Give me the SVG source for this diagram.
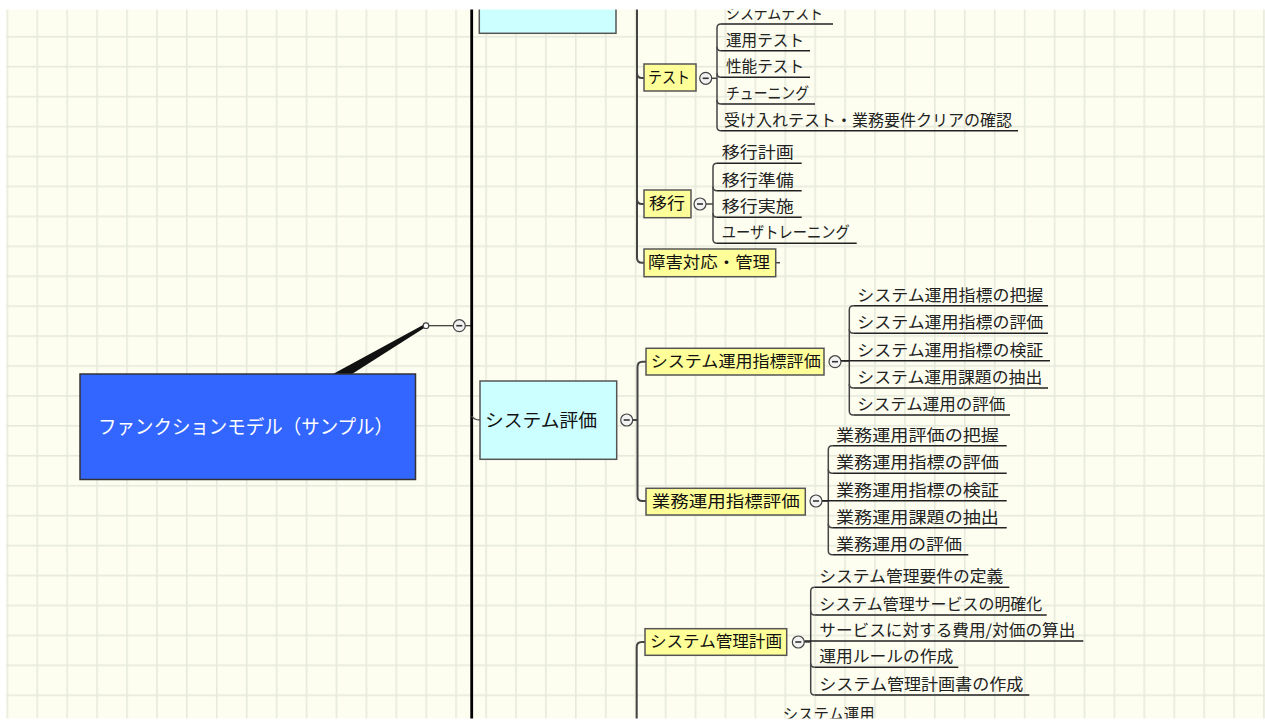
<svg xmlns="http://www.w3.org/2000/svg" width="1265" height="720" viewBox="0 0 1265 720">
<defs>
<pattern id="grid" x="6.5" y="6" width="29.92" height="29.93" patternUnits="userSpaceOnUse">
<rect width="29.92" height="29.93" fill="#fdfef0"/>
<rect x="0" y="0" width="1.6" height="29.93" fill="#e6eadc"/>
<rect x="0" y="0" width="29.92" height="1.6" fill="#e6eadc"/>
</pattern>
<style>
text{font-family:"Noto Sans CJK JP","Noto Sans CJK SC",sans-serif;}
.leaf{font-size:16px;fill:#222;}
.btxt{font-size:16px;fill:#111;}
.ybox{fill:#ffff99;stroke:#555;stroke-width:1.5;}
.cbox{fill:#ccffff;stroke:#555;stroke-width:1.5;}
.conn{fill:none;stroke:#444;stroke-width:2;}
.br{fill:none;stroke:#444;stroke-width:1.5;}
.ul{fill:none;stroke:#222;stroke-width:1.5;}
.tog{fill:#f2f2f2;stroke:#444;stroke-width:1.2;}
.minus{stroke:#333;stroke-width:1.6;}
</style>
</defs>
<rect x="0" y="0" width="1265" height="720" fill="#ffffff"/>
<rect x="6" y="9" width="1259" height="710" fill="url(#grid)"/>

<g id="connectors">
<!-- root to spine -->
<polygon points="333,374 352,374 425,327.5 424,324.5" fill="#111"/>
<line x1="429" y1="325.7" x2="453.3" y2="325.7" stroke="#333" stroke-width="1.2"/>
<line x1="465.3" y1="325.7" x2="471.7" y2="325.7" stroke="#333" stroke-width="1.2"/>
<line x1="471.7" y1="0" x2="471.7" y2="720" stroke="#000" stroke-width="2.8"/>
<!-- spine to システム評価 -->
<path class="br" d="M471.7,416 Q474,420 480,420"/>
<!-- top group vertical -->
<path class="conn" d="M637,0 V257.7 Q637,262.7 642,262.7 H644"/>
<path class="conn" d="M637,73 Q637,78 642,78 H644"/>
<path class="conn" d="M637,199 Q637,204 642,204 H644"/>
<line x1="775.7" y1="262.7" x2="780" y2="262.7" stroke="#444" stroke-width="1.5"/>
<!-- システム評価 group -->
<line x1="632.7" y1="420" x2="637.5" y2="420" stroke="#444" stroke-width="2"/>
<path class="conn" d="M646,361.7 H642.5 Q637.5,361.7 637.5,366.7 V496 Q637.5,501 642.5,501 H646"/>
<!-- bottom group -->
<path class="conn" d="M645,642 H641.7 Q636.7,642 636.7,647 V720"/>

<!-- テスト children -->
<line class="br" x1="711.7" y1="78.3" x2="717" y2="78.3"/>
<path class="br" d="M721,24 Q717,24 717,28 V126.7 Q717,130.7 721,130.7"/>
<path class="br" d="M717,46.7 Q717,50.7 721,50.7"/>
<path class="br" d="M717,73.3 Q717,77.3 721,77.3"/>
<path class="br" d="M717,100 Q717,104 721,104"/>
<path class="ul" d="M721,24 H833 M721,50.7 H810 M721,77.3 H810 M721,104 H815 M721,130.7 H1018"/>

<!-- 移行 children -->
<line class="br" x1="706" y1="204" x2="713" y2="204"/>
<path class="br" d="M717,163.3 Q713,163.3 713,167.3 V239.3 Q713,243.3 717,243.3"/>
<path class="br" d="M713,186.7 Q713,190.7 717,190.7"/>
<path class="br" d="M713,213.3 Q713,217.3 717,217.3"/>
<path class="ul" d="M717,163.3 H801.7 M717,190.7 H801.7 M717,217.3 H801.7 M717,243.3 H856.7"/>

<!-- システム運用指標評価 children -->
<line class="br" x1="841" y1="361" x2="849.3" y2="361"/>
<path class="br" d="M853.3,305.7 Q849.3,305.7 849.3,309.7 V411 Q849.3,415 853.3,415"/>
<path class="br" d="M849.3,329.3 Q849.3,333.3 853.3,333.3"/>
<path class="br" d="M849.3,384 Q849.3,388 853.3,388"/>
<path class="ul" d="M853.3,305.7 H1048 M853.3,333.3 H1048 M840,360.7 H1050 M853.3,388 H1048 M853.3,415 H1010"/>

<!-- 業務運用指標評価 children -->
<line class="br" x1="822" y1="501" x2="828.3" y2="501"/>
<path class="br" d="M832.3,445.7 Q828.3,445.7 828.3,449.7 V550.7 Q828.3,554.7 832.3,554.7"/>
<path class="br" d="M828.3,469.3 Q828.3,473.3 832.3,473.3"/>
<path class="br" d="M828.3,523.7 Q828.3,527.7 832.3,527.7"/>
<path class="ul" d="M832.3,445.7 H1006.7 M832.3,473.3 H1006.7 M822,500.7 H1006.7 M832.3,527.7 H1006.7 M832.3,554.7 H968.3"/>

<!-- システム管理計画 children -->
<line class="br" x1="804.3" y1="642" x2="810.7" y2="642"/>
<path class="br" d="M814.7,587.3 Q810.7,587.3 810.7,591.3 V691 Q810.7,695 814.7,695"/>
<path class="br" d="M810.7,611 Q810.7,615 814.7,615"/>
<path class="br" d="M810.7,663.3 Q810.7,667.3 814.7,667.3"/>
<path class="ul" d="M814.7,587.3 H1009.3 M814.7,615 H1046.7 M804.3,641 H1083.3 M814.7,667.3 H958.3 M814.7,695 H1029.3"/>
</g>

<g id="root">
<rect x="80" y="374" width="335.5" height="105.5" fill="#3366ff" stroke="#333" stroke-width="1.5"/>
<text x="98" y="434" font-size="19.5" fill="#ffffff" textLength="295" lengthAdjust="spacingAndGlyphs">ファンクションモデル（サンプル）</text>
</g>
<g id="root-joint">
<circle cx="426" cy="325.7" r="2.8" fill="#fff" stroke="#444" stroke-width="1.2"/>
<circle class="tog" cx="459.3" cy="325.7" r="6"/>
<line class="minus" x1="456.3" y1="325.7" x2="462.3" y2="325.7"/>
</g>

<g id="top-cyan">
<rect class="cbox" x="479.3" y="-40" width="136.7" height="73.3"/>
</g>

<g id="n-test">
<rect class="ybox" x="644" y="64" width="52" height="27"/>
<text class="btxt" x="648" y="82.8" textLength="42" lengthAdjust="spacingAndGlyphs">テスト</text>
<circle class="tog" cx="705.7" cy="78.3" r="6"/>
<line class="minus" x1="702.7" y1="78.3" x2="708.7" y2="78.3"/>
</g>
<g id="test-children">
<text class="leaf" x="726" y="19" textLength="97" lengthAdjust="spacingAndGlyphs">システムテスト</text>
<text class="leaf" x="726" y="45.7" textLength="78" lengthAdjust="spacingAndGlyphs">運用テスト</text>
<text class="leaf" x="726" y="72.3" textLength="78" lengthAdjust="spacingAndGlyphs">性能テスト</text>
<text class="leaf" x="726" y="99" textLength="83" lengthAdjust="spacingAndGlyphs">チューニング</text>
<text class="leaf" x="724" y="125.7" textLength="288" lengthAdjust="spacingAndGlyphs">受け入れテスト・業務要件クリアの確認</text>
</g>

<g id="n-ikou">
<rect class="ybox" x="644" y="190" width="47" height="27.7"/>
<text class="btxt" x="649" y="209.3" textLength="36" lengthAdjust="spacingAndGlyphs">移行</text>
<circle class="tog" cx="700" cy="204" r="6"/>
<line class="minus" x1="697" y1="204" x2="703" y2="204"/>
</g>
<g id="ikou-children">
<text class="leaf" x="721.7" y="158.3" textLength="72" lengthAdjust="spacingAndGlyphs">移行計画</text>
<text class="leaf" x="721.7" y="185.7" textLength="72" lengthAdjust="spacingAndGlyphs">移行準備</text>
<text class="leaf" x="721.7" y="212.3" textLength="72" lengthAdjust="spacingAndGlyphs">移行実施</text>
<text class="leaf" x="721.7" y="238.3" textLength="128" lengthAdjust="spacingAndGlyphs">ユーザトレーニング</text>
</g>

<g id="n-shougai">
<rect class="ybox" x="644" y="249" width="131.7" height="27.7"/>
<text class="btxt" x="648" y="268.1" textLength="122" lengthAdjust="spacingAndGlyphs">障害対応・管理</text>
</g>

<g id="n-system-hyouka">
<rect class="cbox" x="480" y="381" width="136.7" height="78.3"/>
<text x="485" y="426.8" font-size="18" fill="#111" textLength="112" lengthAdjust="spacingAndGlyphs">システム評価</text>
<circle class="tog" cx="626.7" cy="420" r="6"/>
<line class="minus" x1="623.7" y1="420" x2="629.7" y2="420"/>
</g>

<g id="n-sys-unyou">
<rect class="ybox" x="646" y="348.3" width="178" height="26.7"/>
<text class="btxt" x="650.7" y="367" textLength="170" lengthAdjust="spacingAndGlyphs">システム運用指標評価</text>
<circle class="tog" cx="835" cy="361.7" r="6"/>
<line class="minus" x1="832" y1="361.7" x2="838" y2="361.7"/>
</g>
<g id="sys-unyou-children">
<text class="leaf" x="857.3" y="300.7" textLength="186" lengthAdjust="spacingAndGlyphs">システム運用指標の把握</text>
<text class="leaf" x="857.3" y="328.3" textLength="186" lengthAdjust="spacingAndGlyphs">システム運用指標の評価</text>
<text class="leaf" x="857.3" y="355.7" textLength="186" lengthAdjust="spacingAndGlyphs">システム運用指標の検証</text>
<text class="leaf" x="857.3" y="383" textLength="185" lengthAdjust="spacingAndGlyphs">システム運用課題の抽出</text>
<text class="leaf" x="857.3" y="410" textLength="148" lengthAdjust="spacingAndGlyphs">システム運用の評価</text>
</g>

<g id="n-gyoumu">
<rect class="ybox" x="646" y="488.3" width="159.3" height="26.7"/>
<text class="btxt" x="651.7" y="507" textLength="148" lengthAdjust="spacingAndGlyphs">業務運用指標評価</text>
<circle class="tog" cx="816" cy="501" r="6"/>
<line class="minus" x1="813" y1="501" x2="819" y2="501"/>
</g>
<g id="gyoumu-children">
<text class="leaf" x="836" y="440.7" textLength="163" lengthAdjust="spacingAndGlyphs">業務運用評価の把握</text>
<text class="leaf" x="836" y="468.3" textLength="163" lengthAdjust="spacingAndGlyphs">業務運用指標の評価</text>
<text class="leaf" x="836" y="495.7" textLength="163" lengthAdjust="spacingAndGlyphs">業務運用指標の検証</text>
<text class="leaf" x="836" y="522.7" textLength="163" lengthAdjust="spacingAndGlyphs">業務運用課題の抽出</text>
<text class="leaf" x="836" y="549.7" textLength="126" lengthAdjust="spacingAndGlyphs">業務運用の評価</text>
</g>

<g id="n-kanri">
<rect class="ybox" x="645" y="628.7" width="141.7" height="26.6"/>
<text class="btxt" x="650" y="647.3" textLength="132" lengthAdjust="spacingAndGlyphs">システム管理計画</text>
<circle class="tog" cx="798.3" cy="642" r="6"/>
<line class="minus" x1="795.3" y1="642" x2="801.3" y2="642"/>
</g>
<g id="kanri-children">
<text class="leaf" x="819.3" y="582.3" textLength="184" lengthAdjust="spacingAndGlyphs">システム管理要件の定義</text>
<text class="leaf" x="819.3" y="610" textLength="223" lengthAdjust="spacingAndGlyphs">システム管理サービスの明確化</text>
<text class="leaf" x="819.3" y="636" textLength="256" lengthAdjust="spacingAndGlyphs">サービスに対する費用/対価の算出</text>
<text class="leaf" x="819.3" y="662.3" textLength="134" lengthAdjust="spacingAndGlyphs">運用ルールの作成</text>
<text class="leaf" x="819.3" y="690" textLength="204" lengthAdjust="spacingAndGlyphs">システム管理計画書の作成</text>
</g>

<g id="n-sys-unyou2">
<text class="leaf" x="782.7" y="719.5" textLength="92" lengthAdjust="spacingAndGlyphs">システム運用</text>
</g>

<rect x="0" y="0" width="1265" height="9.5" fill="#ffffff"/>
<rect x="0" y="718.5" width="1265" height="1.5" fill="#ffffff"/>
<rect x="0" y="0" width="6" height="720" fill="#ffffff"/>
</svg>
